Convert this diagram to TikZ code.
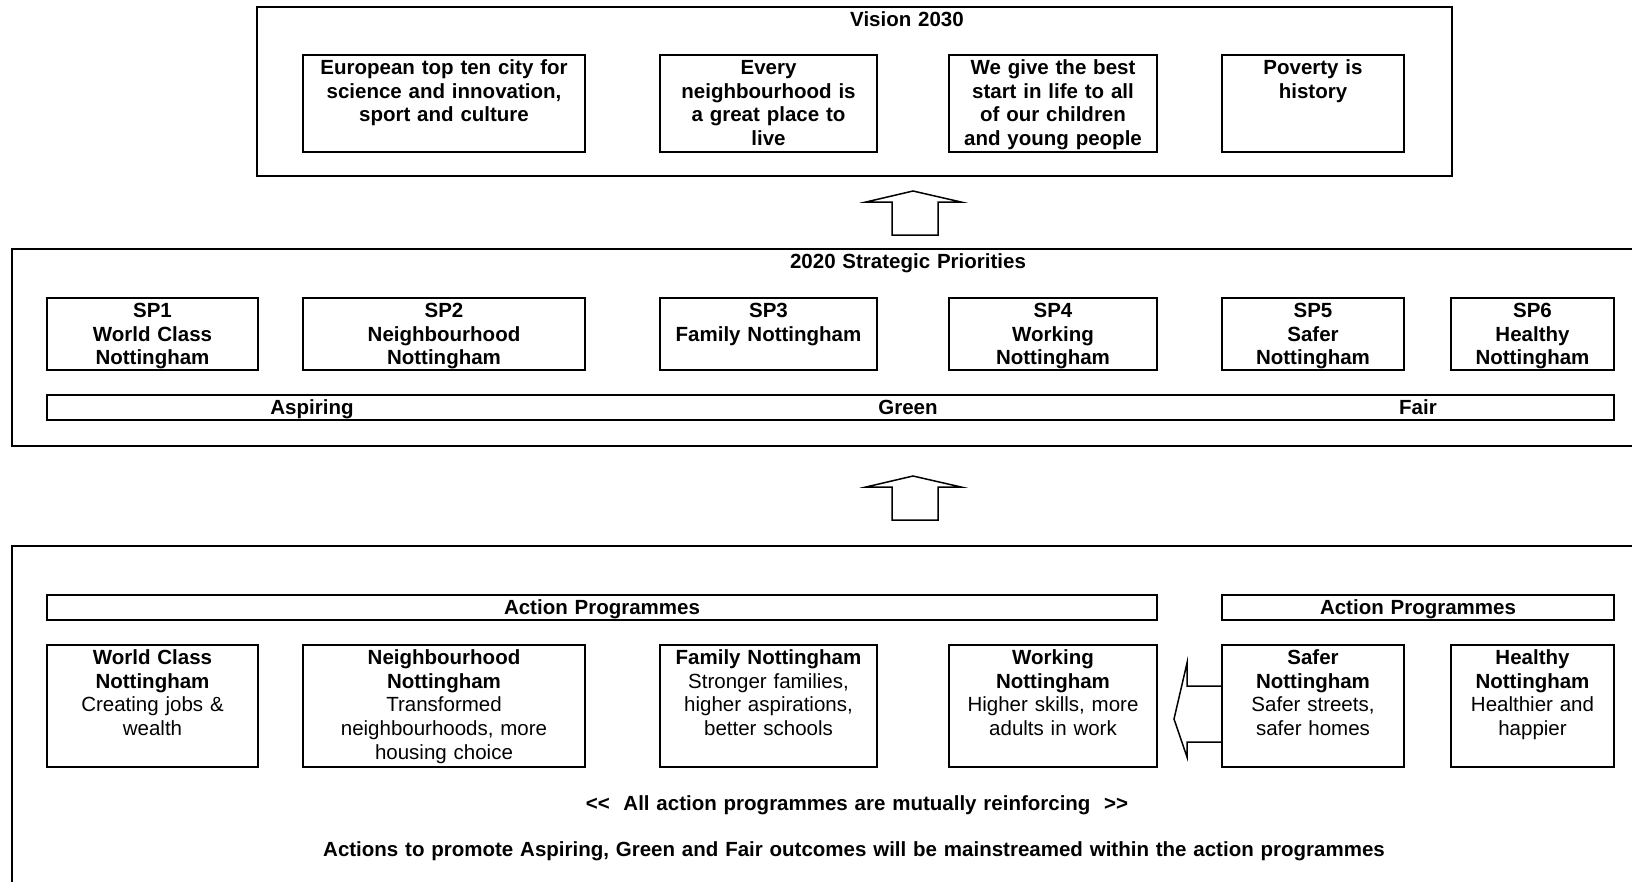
\documentclass[tikz,border=0pt]{standalone}
\usepackage{fontspec}
\setmainfont{Liberation Sans}
\usetikzlibrary{positioning,calc}

\tikzset{
  frame/.style={line width=1.5pt},
  lbl/.style={anchor=north, align=center, inner sep=3pt, text width=300pt,
    font=\bfseries\fontsize{20.5}{23.6}\selectfont, execute at begin node=\strut},
  desc/.style={lbl, font=\fontsize{20.5}{23.6}\selectfont}
}

\begin{document}
\begin{tikzpicture}[x=1pt, y=-1pt]
\useasboundingbox (0,0) rectangle (1632,881);
% outer frames
\draw[frame] (257,7) rectangle (1452,176); \node[lbl] (vision) at (907,7) {Vision 2030};
\draw[frame] (1640,249) -- (12,249) -- (12,446) -- (1640,446); \node[lbl] (prio) at (908,249) {2020 Strategic Priorities};
\draw[frame] (1640,546) -- (12,546) -- (12,890);
% vision boxes
\foreach \n/\l/\r/\t in {v1/303/585/{European top ten city for\\science and innovation,\\sport and culture},
    v2/660/877/{Every\\neighbourhood is\\a great place to\\live},
    v3/949/1157/{We give the best\\start in life to all\\of our children\\and young people},
    v4/1222/1404/{Poverty is\\history}}
  { \draw[frame] (\l,55) rectangle (\r,152); \node[lbl] (\n) at ({(\l+\r)/2},55) {\t}; }
% strategic priorities
\foreach \n/\l/\r/\t in {sp1/47/258/{SP1\\World Class\\Nottingham},
    sp2/303/585/{SP2\\Neighbourhood\\Nottingham},
    sp3/660/877/{SP3\\Family Nottingham},
    sp4/949/1157/{SP4\\Working\\Nottingham},
    sp5/1222/1404/{SP5\\Safer\\Nottingham},
    sp6/1451/1614/{SP6\\Healthy\\Nottingham}}
  { \draw[frame] (\l,298) rectangle (\r,370); \node[lbl] (\n) at ({(\l+\r)/2},298) {\t}; }
\draw[frame] (47,395) rectangle (1614,420);
\foreach \n/\x/\t in {asp/312/Aspiring, grn/908/Green, fair/1418/Fair} \node[lbl] (\n) at (\x,395) {\t};
% action programmes
\draw[frame] (47,595) rectangle (1157,620); \node[lbl] (ap1) at (602,595) {Action Programmes};
\draw[frame] (1222,595) rectangle (1614,620); \node[lbl] (ap2) at (1418,595) {Action Programmes};
\foreach \n/\l/\r/\t in {ap3/47/258/{\textbf{World Class}\\\textbf{Nottingham}\\Creating jobs \&\\wealth},
    ap4/303/585/{\textbf{Neighbourhood}\\\textbf{Nottingham}\\Transformed\\neighbourhoods, more\\housing choice},
    ap5/660/877/{\textbf{Family Nottingham}\\Stronger families,\\higher aspirations,\\better schools},
    ap6/949/1157/{\textbf{Working}\\\textbf{Nottingham}\\Higher skills, more\\adults in work},
    ap7/1222/1404/{\textbf{Safer}\\\textbf{Nottingham}\\Safer streets,\\safer homes},
    ap8/1451/1614/{\textbf{Healthy}\\\textbf{Nottingham}\\Healthier and\\happier}}
  { \draw[frame] (\l,645) rectangle (\r,767); \node[desc] (\n) at ({(\l+\r)/2},645) {\t}; }
\node[lbl, text width=1400pt] (mutual) at (857,791) {<\kern0pt<\ \ All action programmes are mutually reinforcing\ \ >\kern0pt>};
\node[lbl, text width=1400pt] (mainstream) at (854,837) {Actions to promote Aspiring, Green and Fair outcomes will be mainstreamed within the action programmes};
% block arrows
\coordinate (up1) at (913,191);
\coordinate (up2) at (913,476);
\foreach \c in {up1,up2}
  \draw[frame] (\c) -- ++(48,11) -- ++(-23,0) -- ++(0,33) -- ++(-46,0) -- ++(0,-33) -- ++(-26,0) -- cycle;
\coordinate (left) at (1174,719);
\draw[frame] (1222,686) -- (1187,686) -- (1187,663) -- (left) -- (1187,757) -- (1187,742) -- (1222,742);
\end{tikzpicture}
\end{document}
